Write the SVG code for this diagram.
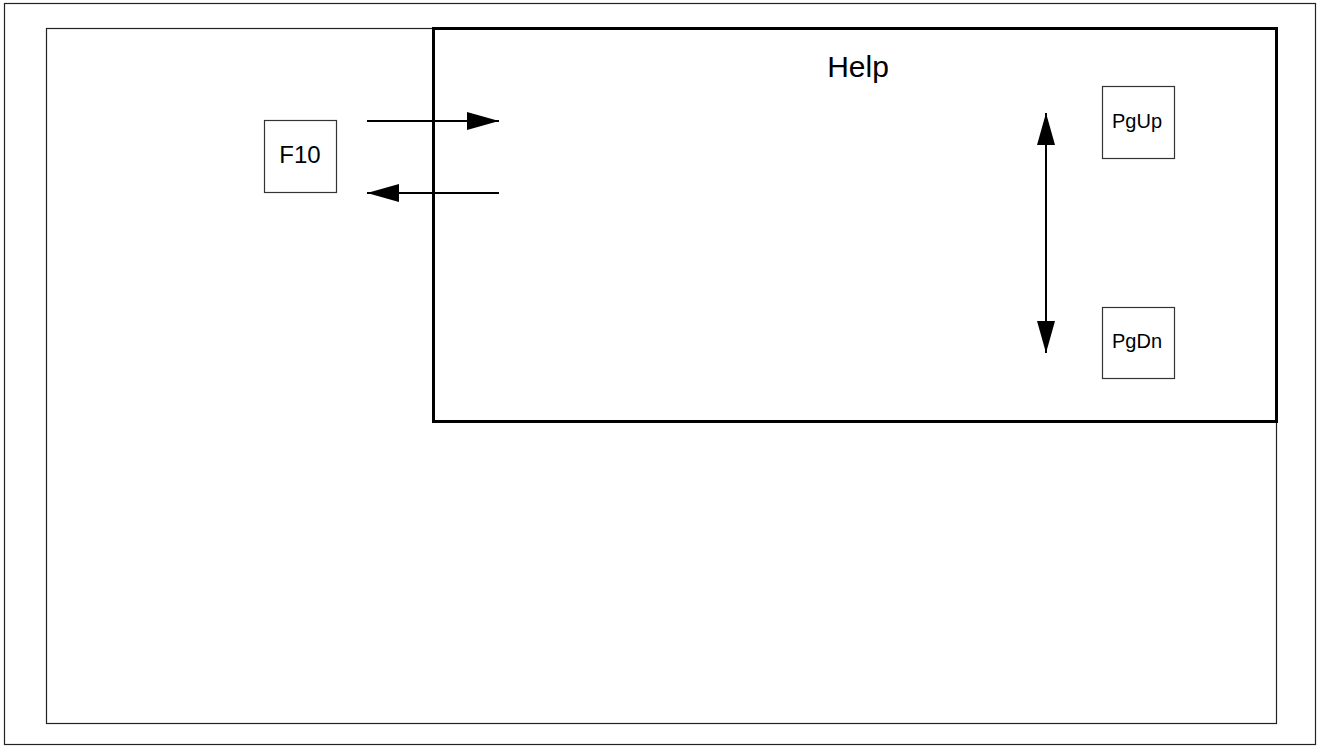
<svg xmlns="http://www.w3.org/2000/svg" width="1321" height="749" viewBox="0 0 1321 749">
<style>
.frame{fill:none;stroke:#222;stroke-width:1.2}
.key{fill:#fff;stroke:#333;stroke-width:1.2}
.help{fill:none;stroke:#000;stroke-width:3}
.conn{stroke:#000;stroke-width:2;fill:none}
text{font-family:"Liberation Sans",Arial,sans-serif;fill:#000;text-anchor:middle}
</style>
<defs>
<marker id="ah" viewBox="0 0 32 18" refX="32" refY="9" markerWidth="32" markerHeight="18" markerUnits="userSpaceOnUse" orient="auto-start-reverse">
<path d="M0,0 L32,9 L0,18 Z" fill="#000"/>
</marker>
</defs>
<rect x="0" y="0" width="1321" height="749" fill="#fff"/>
<rect id="outer" class="frame" x="4.5" y="3.5" width="1311" height="741"/>
<rect id="screen" class="frame" x="46.5" y="28.5" width="1230" height="695"/>
<g id="help">
<rect class="help" x="433.5" y="28.5" width="843" height="393"/>
<text x="858" y="77" font-size="30">Help</text>
</g>
<g id="f10">
<rect class="key" x="264.5" y="120.5" width="72" height="72"/>
<text x="300" y="163" font-size="24">F10</text>
</g>
<g id="pgup">
<rect class="key" x="1102.5" y="86.5" width="72" height="72"/>
<text x="1137" y="128" font-size="20">PgUp</text>
</g>
<g id="pgdn">
<rect class="key" x="1102.5" y="307.5" width="72" height="71"/>
<text x="1137" y="348" font-size="20">PgDn</text>
</g>
<g id="connectors">
<line class="conn" x1="367" y1="121" x2="499" y2="121" marker-end="url(#ah)"/>
<line class="conn" x1="499" y1="193" x2="367" y2="193" marker-end="url(#ah)"/>
<line class="conn" x1="1046" y1="113" x2="1046" y2="353" marker-start="url(#ah)" marker-end="url(#ah)"/>
</g>
</svg>
